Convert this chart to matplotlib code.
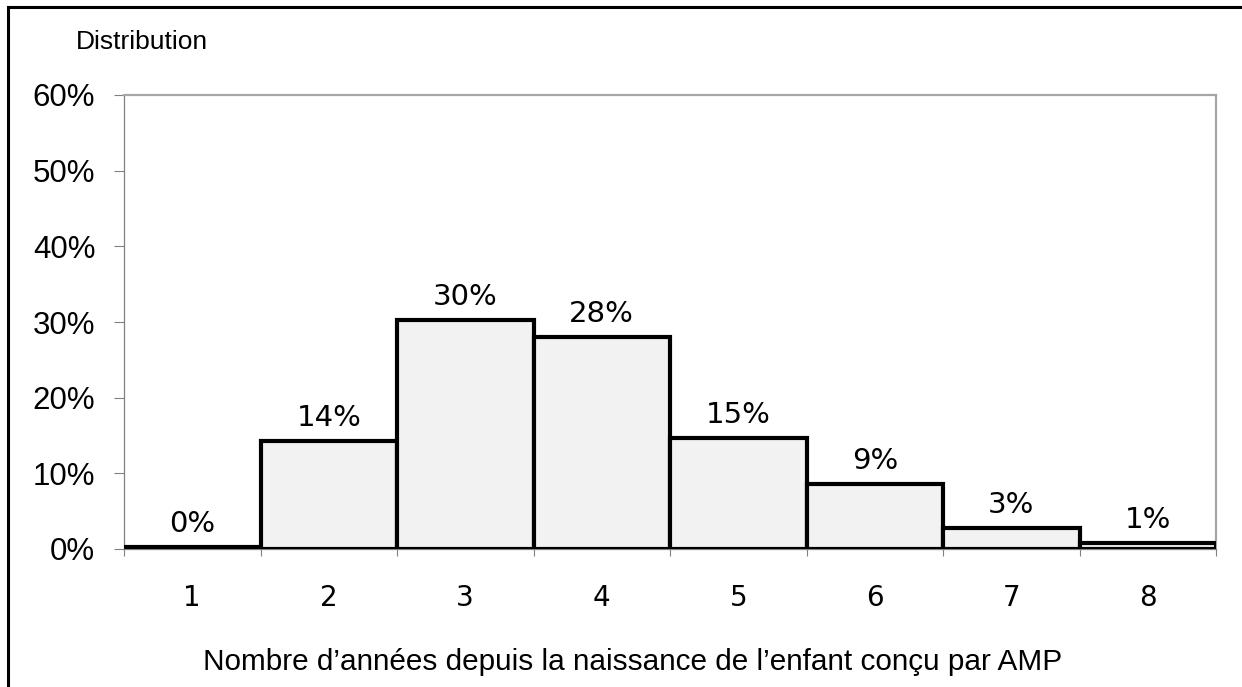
import matplotlib
matplotlib.use("Agg")
import matplotlib.pyplot as plt
from matplotlib.patches import Rectangle
import numpy as np

categories = ["1", "2", "3", "4", "5", "6", "7", "8"]
values = [0.3, 14.3, 30.3, 28.0, 14.7, 8.6, 2.8, 0.8]
labels = ["0%", "14%", "30%", "28%", "15%", "9%", "3%", "1%"]
yticks = [0, 10, 20, 30, 40, 50, 60]
ytick_labels = ["0%", "10%", "20%", "30%", "40%", "50%", "60%"]

W, H = 1242, 687
fig = plt.figure(figsize=(W / 100, H / 100), dpi=100)
ax = fig.add_axes([124 / W, 1 - 549 / H, (1216 - 124) / W, (549 - 95) / H])

x = np.arange(len(categories))
ax.bar(x, values, width=1.0, color="#f2f2f2", edgecolor="black", linewidth=3.0, zorder=3)
ax.set_xlim(-0.5, len(categories) - 0.5)
ax.set_ylim(0, 60)

for xi, v, lab in zip(x, values, labels):
    ax.text(xi, v + 1.2, lab, ha="center", va="bottom", fontsize=21,
            family="DejaVu Sans", color="black")

ax.set_yticks(yticks)
ax.set_yticklabels(ytick_labels, family="Liberation Sans", fontsize=22.5)
ax.set_xticks(np.arange(-0.5, len(categories), 1.0))
ax.set_xticklabels([])
ax.set_xticks(x, minor=True)
ax.set_xticklabels(categories, minor=True, family="DejaVu Sans", fontsize=20)
ax.tick_params(axis="x", which="minor", length=0, pad=25)
ax.tick_params(axis="x", which="major", length=5, width=0.8, color="#808080", direction="out")
ax.tick_params(axis="y", length=7, width=0.8, color="#808080", direction="out", pad=13.7)

for s in ["left", "bottom"]:
    ax.spines[s].set_color("#808080")
    ax.spines[s].set_linewidth(0.9)
for s in ["top", "right"]:
    ax.spines[s].set_color("#a6a6a6")
    ax.spines[s].set_linewidth(1.6)

ax.set_xlabel("Nombre d\u2019années depuis la naissance de l\u2019enfant conçu par AMP",
              family="Liberation Sans", fontsize=21.4, labelpad=26)
ax.xaxis.label.set_x((633 - 124) / (1216 - 124))

fig.text(76 / W, 1 - 42 / H, "Distribution", family="Liberation Sans", fontsize=19,
         ha="left", va="center")

fig.patches.append(Rectangle((7.5 / W, -0.1), 1.2, 1 - 6.5 / H + 0.1, transform=fig.transFigure,
                             fill=False, edgecolor="black", linewidth=2.2))

fig.savefig("out.png", dpi=100)
